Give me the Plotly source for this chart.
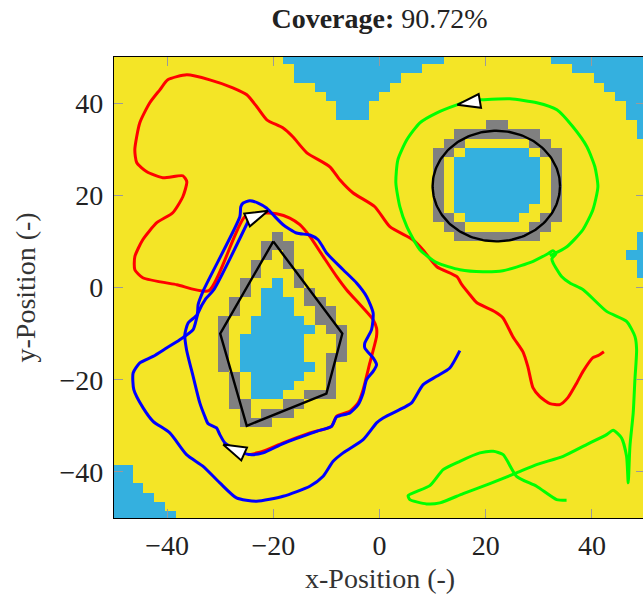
import math
import plotly.graph_objects as go

# ---------------- grid (coverage map) ----------------
N = 50
GRID_X0 = -49.5
GRID_DX = 99 / 49
# runs of (first_col, last_col) per row index (row 0 = bottom)
UNCOVERED_RUNS = {
    49: [(16, 30), (41, 49)], 48: [(17, 28), (43, 49)], 47: [(17, 26), (45, 49)],
    46: [(19, 25), (46, 49)], 45: [(20, 24), (47, 49)], 44: [(21, 23), (48, 49)],
    43: [(21, 23), (48, 49)], 42: [(49, 49)], 41: [(49, 49)],
    39: [(33, 38)], 38: [(32, 39)], 37: [(32, 39)], 36: [(32, 39)], 35: [(32, 39)],
    34: [(32, 39)], 33: [(32, 38)], 32: [(33, 37)],
    30: [(49, 49)], 29: [(49, 49)], 28: [(48, 49)], 27: [(49, 49)], 26: [(49, 49)],
    25: [(15, 15)], 24: [(14, 15)], 23: [(14, 16)], 22: [(14, 16)], 21: [(13, 17)],
    20: [(13, 18)], 19: [(12, 17)], 18: [(12, 17)], 17: [(12, 17)], 16: [(12, 18)],
    15: [(13, 17)], 14: [(13, 16)], 13: [(13, 15)],
    5: [(0, 1)], 4: [(0, 1)], 3: [(0, 2)], 2: [(0, 3)], 1: [(0, 4)], 0: [(0, 5)],
}
OBSTACLE_RUNS = {
    42: [(35, 36)], 41: [(32, 39)], 40: [(31, 32), (39, 40)], 39: [(30, 31), (40, 41)],
    38: [(30, 30), (41, 41)], 37: [(30, 30), (41, 41)], 36: [(30, 30), (41, 41)],
    35: [(30, 30), (41, 41)], 34: [(30, 30), (41, 41)], 33: [(30, 30), (41, 41)],
    32: [(30, 31), (40, 41)], 31: [(31, 32), (39, 40)],
    30: [(32, 39), (15, 15)],
    29: [(14, 16)], 28: [(14, 14), (16, 16)], 27: [(13, 13), (16, 16)],
    26: [(13, 13), (17, 17)], 25: [(12, 12), (17, 17)], 24: [(12, 12), (18, 18)],
    23: [(11, 11), (18, 19)], 22: [(11, 11), (19, 20)], 21: [(10, 10), (19, 20)],
    20: [(10, 10), (20, 21)], 19: [(10, 10), (21, 21)], 18: [(10, 10), (21, 21)],
    17: [(10, 10), (20, 21)], 16: [(10, 10), (20, 20)], 15: [(11, 11), (20, 20)],
    14: [(11, 11), (20, 20)], 13: [(11, 11), (18, 20)], 12: [(11, 12), (16, 17)],
    11: [(12, 12), (14, 16)], 10: [(12, 14)],
}

# ---------------- obstacles ----------------
PENTAGON_X = [-20, -7, -10, -25, -30, -20]
PENTAGON_Y = [10, -10, -23, -30, -10, 10]
CIRCLE_CX, CIRCLE_CY, CIRCLE_R = 22, 22, 12

# ---------------- trajectories ----------------
RED_X = [42.26, 41.13, 40.19, 38.30, 37.17, 35.48, 33.97, 32.09, 30.20, 28.89, 27.94, 27.00,
         25.12, 23.23, 21.73, 18.34, 17.02, 15.51, 14.57, 10.80, 8.17, 6.28, 1.95, -0.88,
         -5.02, -7.47, -9.35, -13.68, -16.32, -18.21, -21.22, -23.10, -24.99, -27.62,
         -31.96, -36.29, -39.87, -41.37, -43.26, -45.14, -46.08, -45.71, -43.82, -40.81,
         -37.04, -36.29, -37.04, -38.93, -41.94, -44.58, -46.08, -46.08, -44.58, -38.17,
         -32.14, -25.36, -21.22, -19.39, -16.89, -15.00, -13.12, -10.61, -8.09, -6.21,
         -1.20, -0.56, -0.56, -1.82, -3.08, -4.02, -5.58, -8.09, -9.03, -13.12, -18.15,
         -21.92, -24.42]
RED_Y = [-13.92, -14.79, -15.22, -18.25, -20.64, -23.89, -25.41, -25.19, -23.67, -21.72,
         -17.17, -13.92, -10.67, -6.55, -5.25, -3.30, -1.56, 0.61, 2.34, 4.51, 8.20, 10.36,
         13.18, 17.52, 20.55, 23.37, 26.19, 29.22, 32.69, 34.64, 36.38, 39.20, 41.80, 43.32,
         45.05, 46.14, 45.05, 42.88, 40.07, 35.73, 29.88, 27.06, 25.11, 23.80, 24.24, 22.94,
         19.69, 16.22, 14.05, 10.36, 6.68, 3.86, 2.12, 0.61, -0.69, 15.35, 16.15, 16.00,
         15.07, 13.62, 11.08, 6.74, 2.41, -0.48, -6.98, -8.78, -10.60, -16.37, -22.16,
         -25.04, -26.86, -27.95, -30.11, -31.54, -33.71, -35.53, -36.25]

BLUE_LOOP_X = [-27.25, -29.13, -30.07, -30.69, -32.28, -32.90, -33.84, -35.10, -36.34, -36.66,
               -36.04, -34.35, -34.16, -33.09, -26.30, -26.12, -25.68, -24.42, -22.86, -21.28,
               -20.03, -18.15, -15.62, -13.12, -11.56, -9.97, -6.85, -4.32, -2.44, -1.20,
               -1.50, -2.76, -2.76, -1.20, -0.56, -1.20, -2.44, -3.08, -4.02, -5.58, -8.09,
               -9.03, -11.86, -18.15, -21.92, -24.42, -25.93]
BLUE_LOOP_Y = [-35.16, -33.71, -31.91, -30.46, -29.53, -27.95, -25.04, -19.27, -13.48, -10.23,
               -7.70, -5.90, -3.73, -0.48, 15.35, 17.52, 18.32, 18.82, 18.32, 17.24, 15.78,
               13.62, 11.82, 11.38, 10.36, 7.48, 3.86, 0.98, -1.93, -5.53, -9.15, -12.03,
               -13.12, -15.28, -16.74, -18.19, -19.99, -22.87, -25.41, -27.21, -28.08, -30.11,
               -31.20, -33.86, -35.88, -36.25, -35.81]
BLUE_SPIRAL_X = [-24.42, -31.20, -32.71, -34.16, -35.10, -37.61, -40.11, -42.64, -45.14, -46.40,
                 -46.27, -44.52, -42.64, -39.49, -36.34, -33.22, -30.07, -26.93, -23.16, -18.15,
                 -13.12, -10.61, -8.73, -6.85, -3.08, -0.50, 0.69, 4.45, 6.04, 8.22, 10.75,
                 13.25, 15.13]
BLUE_SPIRAL_Y = [15.13, -0.48, -2.43, -5.53, -9.15, -11.32, -13.12, -14.94, -16.37, -18.54,
                 -22.16, -26.12, -29.03, -31.54, -36.25, -38.79, -42.38, -45.64, -46.37, -45.29,
                 -43.12, -40.95, -37.70, -35.88, -33.00, -29.31, -28.29, -26.12, -25.04, -21.07,
                 -19.27, -17.45, -13.70]

GREEN_X = [32.09, 35.29, 38.30, 40.19, 41.13, 40.56, 39.06, 36.42, 33.41, 29.64, 24.55, 19.47,
           17.02, 14.57, 10.80, 7.60, 5.15, 3.46, 3.08, 3.83, 5.15, 7.60, 10.80, 15.13, 19.47,
           23.23, 28.32, 31.71, 32.65, 33.22, 32.46, 32.71, 34.29, 35.86, 38.36, 42.77, 46.53,
           48.10, 48.42, 48.10, 47.78, 47.16, 46.84, 46.53, 45.59, 44.01, 42.77, 39.00, 34.59,
           29.58, 25.81, 20.79, 15.76, 11.37, 8.86, 5.72, 5.40, 9.48, 11.99, 15.13, 18.90,
           21.41, 23.29, 25.81, 29.58, 33.35, 35.23]
GREEN_Y = [6.89, 8.85, 12.53, 16.87, 21.85, 26.19, 30.53, 34.86, 38.55, 40.07, 40.93, 40.72,
           40.50, 39.63, 37.90, 35.73, 32.04, 27.71, 22.72, 17.52, 13.18, 8.20, 5.38, 3.86,
           3.43, 3.64, 5.38, 7.33, 7.98, 7.33, 6.24, 5.31, 2.41, 0.98, -0.48, -5.18, -7.35,
           -10.60, -13.48, -19.99, -27.21, -34.45, -42.38, -36.62, -32.63, -30.98, -31.91,
           -34.08, -36.62, -38.42, -40.22, -42.54, -44.70, -46.72, -46.94, -46.00, -45.14,
           -42.97, -39.50, -37.70, -35.88, -35.53, -36.25, -40.95, -43.12, -46.00, -46.16]

# agent markers: tip position and tail (base centre) position
ARROW_TIP_X = [-20.97, 14.63, -29.45]
ARROW_TIP_Y = [16.65, 39.63, -34.08]
ARROW_TAIL_X = [-24.99, 19.22, -25.12]
ARROW_TAIL_Y = [14.63, 40.54, -36.31]

TITLE = "<b>Coverage:</b> 90.72%"
X_LABEL = "x-Position (-)"
Y_LABEL = "y-Position (-)"
TICKS = [-40, -20, 0, 20, 40]

# ---------------- colours / layout ----------------
YELLOW = "#F4E526"
SKY = "#34B0DF"
GREY = "#808080"
W, H = 645, 597
ML, MR, MT, MB = 114, 0, 57, 79
PW, PH = W - ML - MR, H - MT - MB
FONT = "Liberation Serif"
FS = 28

z = [[0] * N for _ in range(N)]
for r, runs in UNCOVERED_RUNS.items():
    for a, b in runs:
        for c in range(a, b + 1):
            z[r][c] = 1
for r, runs in OBSTACLE_RUNS.items():
    for a, b in runs:
        for c in range(a, b + 1):
            z[r][c] = 2

fig = go.Figure()
fig.add_trace(go.Heatmap(
    z=z, x0=GRID_X0, dx=GRID_DX, y0=GRID_X0, dy=GRID_DX, zmin=0, zmax=2,
    colorscale=[[0, YELLOW], [0.25, YELLOW], [0.25, SKY], [0.75, SKY], [0.75, GREY], [1, GREY]],
    showscale=False, hoverinfo="skip"))

fig.add_trace(go.Scatter(x=PENTAGON_X, y=PENTAGON_Y, mode="lines",
                         line=dict(color="black", width=2.4), hoverinfo="skip"))
th = [2 * math.pi * i / 180 for i in range(181)]
fig.add_trace(go.Scatter(x=[CIRCLE_CX + CIRCLE_R * math.cos(t) for t in th],
                         y=[CIRCLE_CY + CIRCLE_R * math.sin(t) for t in th],
                         mode="lines", line=dict(color="black", width=2.4), hoverinfo="skip"))

LW = 3
fig.add_trace(go.Scatter(x=RED_X, y=RED_Y, mode="lines",
                         line=dict(color="#FF0000", width=LW, shape="spline", smoothing=0.6)))
fig.add_trace(go.Scatter(x=GREEN_X, y=GREEN_Y, mode="lines",
                         line=dict(color="#00FF00", width=LW, shape="spline", smoothing=0.6)))
fig.add_trace(go.Scatter(x=BLUE_LOOP_X, y=BLUE_LOOP_Y, mode="lines",
                         line=dict(color="#0000FF", width=LW, shape="spline", smoothing=0.6)))
fig.add_trace(go.Scatter(x=BLUE_SPIRAL_X, y=BLUE_SPIRAL_Y, mode="lines",
                         line=dict(color="#0000FF", width=LW, shape="spline", smoothing=0.6)))

# arrow-head markers (drawn in pixel space, converted to data units)
sx, sy = PW / 100.0, PH / 100.0
L_PX, W_PX = 23.0, 14.0
for tx, ty, bx, by in zip(ARROW_TIP_X, ARROW_TIP_Y, ARROW_TAIL_X, ARROW_TAIL_Y):
    dx, dy = (tx - bx) * sx, (ty - by) * sy
    n = math.hypot(dx, dy)
    ux, uy = dx / n, dy / n
    mx, my = tx * sx - ux * L_PX, ty * sy - uy * L_PX
    px, py = -uy * W_PX / 2, ux * W_PX / 2
    xs = [tx, (mx + px) / sx, (mx - px) / sx, tx]
    ys = [ty, (my + py) / sy, (my - py) / sy, ty]
    fig.add_trace(go.Scatter(x=xs, y=ys, mode="lines", fill="toself", fillcolor="white",
                             line=dict(color="black", width=2), hoverinfo="skip"))

axis_common = dict(range=[-50, 50], tickvals=TICKS, ticks="inside", ticklen=9, tickwidth=1.3,
                   tickcolor="#9a9a9a", showline=True, linecolor="black", linewidth=1.2,
                   mirror="ticks", showgrid=False, zeroline=False,
                   tickfont=dict(family=FONT, size=FS, color="#222"))
fig.update_xaxes(**axis_common, ticklabelstandoff=2)
fig.update_yaxes(**axis_common, ticklabelstandoff=4)

fig.update_layout(
    width=W, height=H, margin=dict(l=ML, r=MR, t=MT, b=MB),
    paper_bgcolor="white", plot_bgcolor="white", showlegend=False,
    title=dict(text=TITLE, x=(ML + PW / 2) / W, xanchor="center", y=1 - 18 / H,
               yanchor="middle", font=dict(family=FONT, size=FS, color="#222")),
    annotations=[
        dict(text=X_LABEL, xref="paper", yref="paper", x=0.5, y=-(578 - (MT + PH)) / PH,
             xanchor="center", yanchor="middle", showarrow=False,
             font=dict(family=FONT, size=FS, color="#333")),
        dict(text=Y_LABEL, xref="paper", yref="paper", x=-(ML - 25) / PW, y=0.5,
             xanchor="center", yanchor="middle", textangle=-90, showarrow=False,
             font=dict(family=FONT, size=FS, color="#333")),
    ],
)

fig.write_html("out.html", config={"displayModeBar": False},
               post_script="document.body.style.margin='0';document.body.style.overflow='hidden';")
